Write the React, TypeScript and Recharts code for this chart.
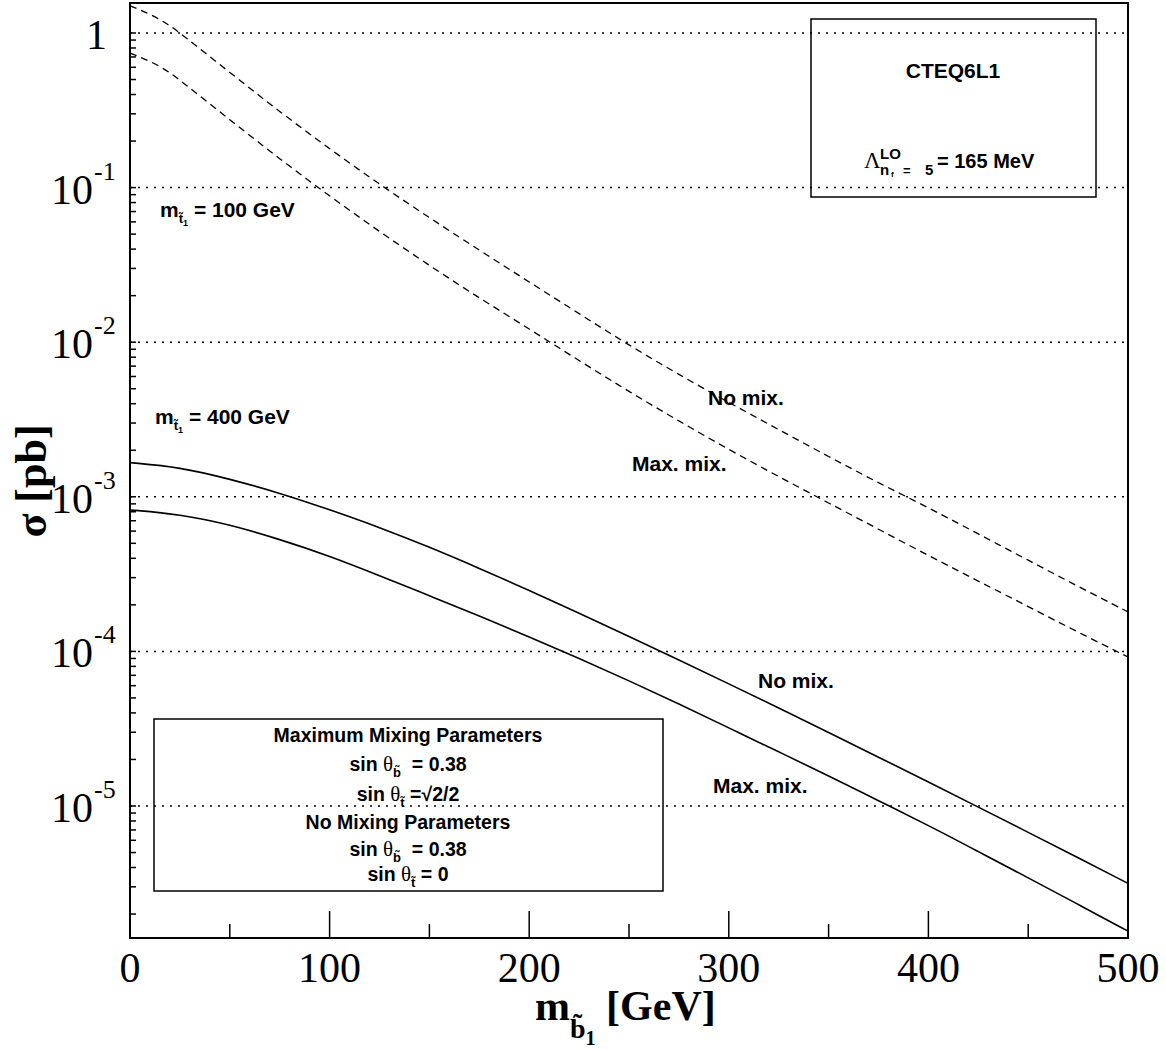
import React from 'react';
import {
  LineChart,
  Line,
  XAxis,
  YAxis,
  ReferenceLine,
  ReferenceArea,
  Customized,
} from 'recharts';

// sbottom mass grid [GeV]
const massDashed = [0, 10, 20, 25, 50, 75, 100, 125, 150, 175, 200, 225, 250, 275, 300, 325, 350, 375, 400, 425, 450, 475, 500];
const massSolid = [0, 25, 50, 75, 100, 125, 150, 175, 200, 225, 250, 275, 300, 325, 350, 375, 400, 425, 450, 475, 500];

// sigma [pb], m_stop1 = 100 GeV (dashed)
const noMix100 = [1.5, 1.33, 1.12, 1.0, 0.556, 0.309, 0.178, 0.105, 0.0638, 0.0394, 0.0245, 0.0153, 0.00955, 0.00617, 0.00407, 0.00272, 0.00182, 0.00123, 0.000851, 0.000575, 0.000389, 0.000263, 0.00018];
const maxMix100 = [0.74, 0.661, 0.556, 0.495, 0.275, 0.153, 0.0881, 0.0519, 0.0313, 0.0193, 0.0122, 0.00759, 0.00479, 0.00309, 0.00202, 0.00135, 0.000912, 0.000617, 0.000417, 0.000285, 0.000195, 0.000133, 0.000092];

// sigma [pb], m_stop1 = 400 GeV (solid)
const noMix400 = [0.001663, 0.001556, 0.001303, 0.001059, 0.000826, 0.000634, 0.000473, 0.000345, 0.000248, 0.000177, 0.000125, 0.0000881, 0.0000617, 0.000043, 0.0000299, 0.0000207, 0.0000143, 0.00000984, 0.00000676, 0.00000462, 0.00000316];
const maxMix400 = [0.000822, 0.000771, 0.000661, 0.000531, 0.000414, 0.000309, 0.000229, 0.00017, 0.000124, 0.0000902, 0.0000646, 0.0000457, 0.000032, 0.0000224, 0.0000157, 0.0000108, 0.0000075, 0.00000507, 0.00000343, 0.00000231, 0.00000155];

const xTicks = [0, 50, 100, 150, 200, 250, 300, 350, 400, 450, 500];
const decades = [1, 0.1, 0.01, 0.001, 0.0001, 0.00001];
const yTicks: number[] = [];
for (let e = -6; e <= 0; e++) {
  for (let k = 1; k <= 9; k++) {
    const v = k * Math.pow(10, e);
    if (v >= 1.4e-6 && v <= 1.56) yTicks.push(v);
  }
}

const Y_MIN = 1.4e-6;
const Y_MAX = 1.563;

const W = 1166;
const H = 1049;
const LEFT = 130;
const RIGHT = 1128;
const TOP = 3;
const BOTTOM = 938;

const SANS = '"Liberation Sans", Arial, sans-serif';
const SERIF = '"Liberation Serif", "Times New Roman", serif';

const pts = (ms: number[], vs: number[]) => ms.map((m, i) => ({ m, s: vs[i] }));

const YTick = (props: any) => {
  const { y, payload } = props;
  const v = payload.value;
  const e = Math.round(Math.log10(v));
  const isDecade = Math.abs(v / Math.pow(10, e) - 1) < 1e-6;
  return (
    <g>
      <line x1={LEFT} x2={LEFT + 6} y1={y} y2={y} stroke="#000" strokeWidth={1.5} />
      {isDecade && e === 0 && (
        <text x={86} y={y + 16} fontFamily={SERIF} fontSize={42} fill="#000">1</text>
      )}
      {isDecade && e !== 0 && (
        <g>
          <text x={93} y={y + 16} textAnchor="end" fontFamily={SERIF} fontSize={42} fill="#000">10</text>
          <text x={94} y={y - 8} fontFamily={SERIF} fontSize={26} fill="#000">{`-${-e}`}</text>
        </g>
      )}
    </g>
  );
};

const XTick = (props: any) => {
  const { x, payload } = props;
  const major = payload.value % 100 === 0;
  return (
    <g>
      <line x1={x} x2={x} y1={BOTTOM} y2={BOTTOM - (major ? 27 : 14)} stroke="#000" strokeWidth={1.5} />
      {major && (
        <text x={x} y={982} textAnchor="middle" fontFamily={SERIF} fontSize={42} fill="#000">
          {payload.value}
        </text>
      )}
    </g>
  );
};

const Annotations = () => {
  const lbl = { fontFamily: SANS, fontWeight: 'bold' as const, fill: '#000' };
  return (
    <g>
      {/* stop mass labels */}
      <text x={160} y={217} fontSize={21} {...lbl}>
        m<tspan dy={6} fontSize={13}>t̃</tspan><tspan dy={3} fontSize={9}>1</tspan>
        <tspan dy={-9} fontSize={21}>{'\u00a0= 100 GeV'}</tspan>
      </text>
      <text x={155} y={424} fontSize={21} {...lbl}>
        m<tspan dy={6} fontSize={13}>t̃</tspan><tspan dy={3} fontSize={9}>1</tspan>
        <tspan dy={-9} fontSize={21}>{'\u00a0= 400 GeV'}</tspan>
      </text>

      {/* curve labels */}
      <text x={708} y={405} fontSize={21} {...lbl}>No mix.</text>
      <text x={632} y={471} fontSize={21} {...lbl}>Max. mix.</text>
      <text x={758} y={688} fontSize={21} {...lbl}>No mix.</text>
      <text x={713} y={793} fontSize={21} {...lbl}>Max. mix.</text>

      {/* PDF box */}
      <rect x={811} y={19} width={285} height={178} fill="#fff" stroke="#000" strokeWidth={1.5} />
      <text x={953} y={78} textAnchor="middle" fontSize={21} {...lbl}>CTEQ6L1</text>
      <text x={864} y={168} fontFamily={SERIF} fontSize={23} fill="#000">Λ</text>
      <text x={880} y={159} fontSize={15} {...lbl}>LO</text>
      <text x={880} y={175} fontSize={15} {...lbl}>n</text>
      <text x={891} y={177} fontSize={8} {...lbl}>f</text>
      <text x={903} y={175} fontSize={13} {...lbl}>=</text>
      <text x={925} y={175} fontSize={15} {...lbl}>5</text>
      <text x={937} y={168} fontSize={20} {...lbl}>= 165 MeV</text>

      {/* mixing parameters box */}
      <rect x={154} y={719} width={509} height={172} fill="#fff" stroke="#000" strokeWidth={1.5} />
      <text x={408} y={742} textAnchor="middle" fontSize={19.5} {...lbl}>Maximum Mixing Parameters</text>
      <text x={408} y={771} textAnchor="middle" fontSize={19.5} {...lbl}>
        {'sin\u00a0'}<tspan fontFamily={SERIF} fontWeight="normal" fontSize={21}>θ</tspan>
        <tspan dy={6} fontSize={13}>b̃</tspan>
        <tspan dy={-6} fontSize={19.5}>{'\u00a0\u00a0= 0.38'}</tspan>
      </text>
      <text x={408} y={801} textAnchor="middle" fontSize={19.5} {...lbl}>
        {'sin\u00a0'}<tspan fontFamily={SERIF} fontWeight="normal" fontSize={21}>θ</tspan>
        <tspan dy={6} fontSize={13}>t̃</tspan>
        <tspan dy={-6} fontSize={19.5}>{'\u00a0=√2/2'}</tspan>
      </text>
      <text x={408} y={829} textAnchor="middle" fontSize={19.5} {...lbl}>No Mixing Parameters</text>
      <text x={408} y={856} textAnchor="middle" fontSize={19.5} {...lbl}>
        {'sin\u00a0'}<tspan fontFamily={SERIF} fontWeight="normal" fontSize={21}>θ</tspan>
        <tspan dy={6} fontSize={13}>b̃</tspan>
        <tspan dy={-6} fontSize={19.5}>{'\u00a0\u00a0= 0.38'}</tspan>
      </text>
      <text x={408} y={881} textAnchor="middle" fontSize={19.5} {...lbl}>
        {'sin\u00a0'}<tspan fontFamily={SERIF} fontWeight="normal" fontSize={21}>θ</tspan>
        <tspan dy={6} fontSize={13}>t̃</tspan>
        <tspan dy={-6} fontSize={19.5}>{'\u00a0= 0'}</tspan>
      </text>

      {/* axis titles */}
      <text
        x={46}
        y={481}
        transform="rotate(-90 46 481)"
        textAnchor="middle"
        fontFamily={SERIF}
        fontWeight="bold"
        fontSize={44}
        fill="#000"
      >
        σ [pb]
      </text>
      <text x={535} y={1020} fontFamily={SERIF} fontWeight="bold" fontSize={42} fill="#000">
        m<tspan dy={18} fontSize={28}>b̃</tspan><tspan dy={7} fontSize={20}>1</tspan>
        <tspan dy={-25} fontSize={42}>{'\u00a0[GeV]'}</tspan>
      </text>
    </g>
  );
};

const App: React.FC = () => {
  return (
    <div style={{ position: 'absolute', left: 0, top: 0, width: W, height: H, background: '#fff' }}>
      <LineChart
        width={W}
        height={H}
        margin={{ top: TOP, right: W - RIGHT, bottom: 0, left: 0 }}
      >
        <XAxis
          dataKey="m"
          type="number"
          domain={[0, 500]}
          ticks={xTicks}
          interval={0}
          height={H - BOTTOM}
          axisLine={{ stroke: '#000', strokeWidth: 2 }}
          tickLine={false}
          tick={<XTick />}
          allowDataOverflow
        />
        <YAxis
          type="number"
          scale="log"
          domain={[Y_MIN, Y_MAX]}
          ticks={yTicks}
          interval={0}
          width={LEFT}
          axisLine={{ stroke: '#000', strokeWidth: 2 }}
          tickLine={false}
          tick={<YTick />}
          allowDataOverflow
        />
        {decades.map((d) => (
          <ReferenceLine key={d} y={d} stroke="#000" strokeWidth={1.5} strokeDasharray="2 6" />
        ))}
        <ReferenceArea x1={0} x2={500} y1={Y_MIN} y2={Y_MAX} fill="none" stroke="#000" strokeWidth={2} />
        <Line data={pts(massDashed, noMix100)} dataKey="s" type="basis" stroke="#000" strokeWidth={1.3} strokeDasharray="7 5" dot={false} isAnimationActive={false} />
        <Line data={pts(massDashed, maxMix100)} dataKey="s" type="basis" stroke="#000" strokeWidth={1.3} strokeDasharray="7 5" dot={false} isAnimationActive={false} />
        <Line data={pts(massSolid, noMix400)} dataKey="s" type="basis" stroke="#000" strokeWidth={1.6} dot={false} isAnimationActive={false} />
        <Line data={pts(massSolid, maxMix400)} dataKey="s" type="basis" stroke="#000" strokeWidth={1.6} dot={false} isAnimationActive={false} />
        <Customized component={Annotations} />
      </LineChart>
    </div>
  );
};

export default App;
